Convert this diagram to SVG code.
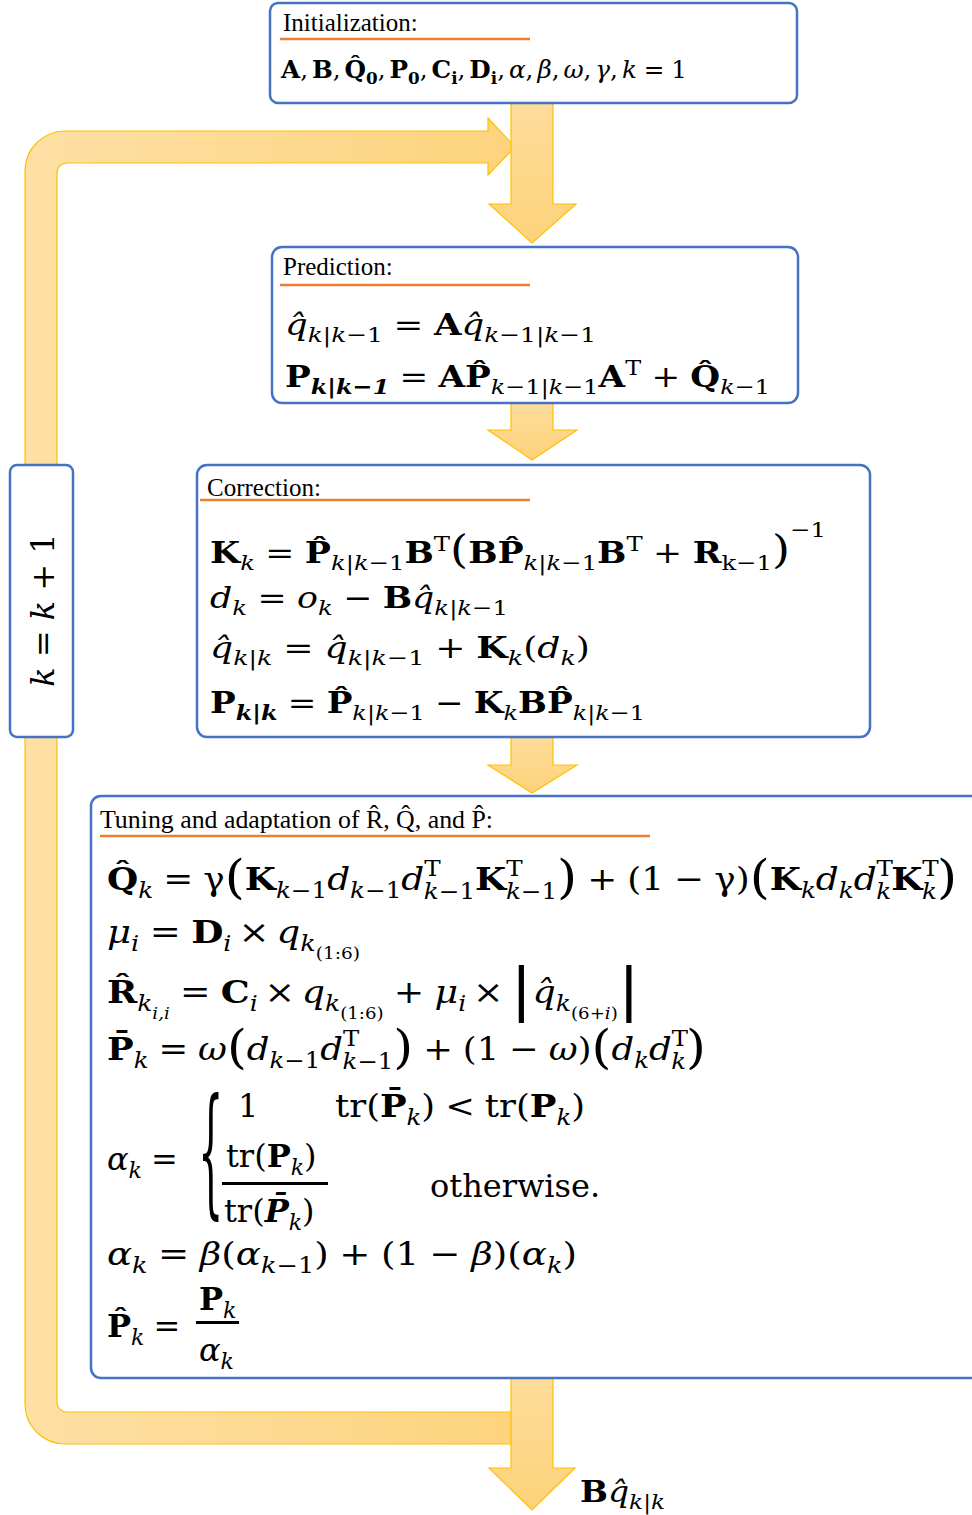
<svg xmlns="http://www.w3.org/2000/svg" width="972" height="1515" viewBox="0 0 972 1515">
<defs>
<linearGradient id="gh" x1="0" y1="0" x2="1" y2="0"><stop offset="0" stop-color="#FEE0A5"/><stop offset="1" stop-color="#FDD37D"/></linearGradient>
<linearGradient id="gv" x1="0" y1="0" x2="0" y2="1"><stop offset="0" stop-color="#FEDC9A"/><stop offset="1" stop-color="#FDD27A"/></linearGradient>
<style>
.box{fill:#fff;stroke:#4472C4;stroke-width:2.5}
.ul{stroke:#ED7D31;stroke-width:2.5}
.ah{fill:url(#gh);stroke:#FFC000;stroke-width:1.2}
.av{fill:url(#gv);stroke:#FFC000;stroke-width:1.2}
.t{font-family:"Liberation Serif",serif;font-size:25px;fill:#000}
.m{font-family:"DejaVu Serif",serif;fill:#000}
.b{font-weight:bold}
.i{font-style:italic}
.s{font-size:21px}
.u{font-size:22px}
.v{font-size:16px}
.bp{font-size:46px}
.bp2{font-size:40px}
.bar{font-size:58px}
</style>
</defs>
<rect width="972" height="1515" fill="#fff"/>
<g id="connectors">
<path class="ah" d="M488 131 L65 131 A40 40 0 0 0 25 171 L25 1404 A40 40 0 0 0 65 1444 L512 1444 L512 1412 L67 1412 A10 10 0 0 1 57 1402 L57 173 A10 10 0 0 1 67 163 L488 163 L488 175 L515 147 L488 118 Z"/>
<path class="av" d="M511 103 L553 103 L553 204 L576 204 L532 243 L489 204 L511 204 Z"/>
<path class="av" d="M511 403 L553 403 L553 430 L577 430 L532 460 L488 430 L511 430 Z"/>
<path class="av" d="M511 737 L553 737 L553 765 L577 765 L532 793 L488 765 L511 765 Z"/>
<path class="av" d="M511 1378 L553 1378 L553 1468 L575 1468 L532 1510 L489 1468 L511 1468 Z"/>
</g>
<g id="output-label">
<text class="m" x="580" y="1502" font-size="30" textLength="85" lengthAdjust="spacingAndGlyphs"><tspan class="b">B</tspan><tspan class="i">q̂</tspan><tspan class="s" dy="7"><tspan class="i">k</tspan>|<tspan class="i">k</tspan></tspan></text>
</g>
<g id="counter">
<rect class="box" x="10" y="465" width="63" height="272" rx="7"/>
<text class="m" font-size="32" text-anchor="middle" transform="translate(54,610) rotate(-90)"><tspan class="i">k</tspan> = <tspan class="i">k</tspan> + 1</text>
</g>
<g id="init">
<rect class="box" x="270" y="3" width="527" height="100" rx="8"/>
<text class="t" x="283" y="31">Initialization:</text>
<line class="ul" x1="280" y1="39" x2="530" y2="39"/>
<text class="m" x="281" y="78" font-size="25" textLength="406" lengthAdjust="spacingAndGlyphs"><tspan class="b">A</tspan>,<tspan class="b" dx="4">B</tspan>,<tspan class="b" dx="4">Q̂</tspan><tspan class="b" font-size="17" dy="6">0</tspan><tspan dy="-6">,</tspan><tspan class="b" dx="4">P</tspan><tspan class="b" font-size="17" dy="6">0</tspan><tspan dy="-6">,</tspan><tspan class="b" dx="4">C</tspan><tspan class="b" font-size="17" dy="6">i</tspan><tspan dy="-6">,</tspan><tspan class="b" dx="4">D</tspan><tspan class="b" font-size="17" dy="6">i</tspan><tspan dy="-6">,</tspan><tspan class="i" dx="4">α</tspan>,<tspan class="i" dx="4">β</tspan>,<tspan class="i" dx="4">ω</tspan>,<tspan class="i" dx="4">γ</tspan>,<tspan class="i" dx="4">k</tspan><tspan dx="7">=</tspan><tspan dx="7">1</tspan></text>
</g>
<g id="prediction">
<rect class="box" x="272" y="247" width="526" height="156" rx="10"/>
<text class="t" x="283" y="275">Prediction:</text>
<line class="ul" x1="280" y1="285" x2="530" y2="285"/>
<text class="m" x="285" y="335" font-size="30" textLength="311" lengthAdjust="spacingAndGlyphs"><tspan class="i">q̂</tspan><tspan class="s" dy="7"><tspan class="i">k</tspan>|<tspan class="i">k</tspan>−1</tspan><tspan dy="-7" dx="9">=</tspan><tspan class="b" dx="9">A</tspan><tspan class="i">q̂</tspan><tspan class="s" dy="7"><tspan class="i">k</tspan>−1|<tspan class="i">k</tspan>−1</tspan></text>
<text class="m" x="285" y="387" font-size="30" textLength="485" lengthAdjust="spacingAndGlyphs"><tspan class="b">P</tspan><tspan class="s b i" dy="7">k|k−1</tspan><tspan dy="-7" dx="9">=</tspan><tspan class="b" dx="9">AP̂</tspan><tspan class="s" dy="7"><tspan class="i">k</tspan>−1|<tspan class="i">k</tspan>−1</tspan><tspan class="b" dy="-7">A</tspan><tspan class="s" dy="-12">T</tspan><tspan dy="12" dx="9">+</tspan><tspan class="b" dx="9">Q̂</tspan><tspan class="s" dy="7"><tspan class="i">k</tspan>−1</tspan></text>
</g>
<g id="correction">
<rect class="box" x="197" y="465" width="673" height="272" rx="10"/>
<text class="t" x="207" y="496">Correction:</text>
<line class="ul" x1="200" y1="500" x2="530" y2="500"/>
<text class="m" x="210" y="563" font-size="30" textLength="616" lengthAdjust="spacingAndGlyphs"><tspan class="b">K</tspan><tspan class="s i" dy="7">k</tspan><tspan dy="-7" dx="9">=</tspan><tspan class="b" dx="9">P̂</tspan><tspan class="s" dy="7"><tspan class="i">k</tspan>|<tspan class="i">k</tspan>−1</tspan><tspan class="b" dy="-7">B</tspan><tspan class="s" dy="-12">T</tspan><tspan class="bp2" dy="12">(</tspan><tspan class="b">BP̂</tspan><tspan class="s" dy="7"><tspan class="i">k</tspan>|<tspan class="i">k</tspan>−1</tspan><tspan class="b" dy="-7">B</tspan><tspan class="s" dy="-12">T</tspan><tspan dy="12" dx="9">+</tspan><tspan class="b" dx="9">R</tspan><tspan class="s" dy="7">k−1</tspan><tspan class="bp2" dy="-7">)</tspan><tspan class="s" dy="-26">−1</tspan></text>
<text class="m" x="210" y="608" font-size="30" textLength="298" lengthAdjust="spacingAndGlyphs"><tspan class="i">d</tspan><tspan class="s i" dy="7">k</tspan><tspan dy="-7" dx="9">=</tspan><tspan class="i" dx="9">o</tspan><tspan class="s i" dy="7">k</tspan><tspan dy="-7" dx="9">−</tspan><tspan class="b" dx="9">B</tspan><tspan class="i">q̂</tspan><tspan class="s" dy="7"><tspan class="i">k</tspan>|<tspan class="i">k</tspan>−1</tspan></text>
<text class="m" x="210" y="658" font-size="30" textLength="380" lengthAdjust="spacingAndGlyphs"><tspan class="i">q̂</tspan><tspan class="s" dy="7"><tspan class="i">k</tspan>|<tspan class="i">k</tspan></tspan><tspan dy="-7" dx="9">=</tspan><tspan class="i" dx="9">q̂</tspan><tspan class="s" dy="7"><tspan class="i">k</tspan>|<tspan class="i">k</tspan>−1</tspan><tspan dy="-7" dx="9">+</tspan><tspan class="b" dx="9">K</tspan><tspan class="s i" dy="7">k</tspan><tspan dy="-7">(</tspan><tspan class="i">d</tspan><tspan class="s i" dy="7">k</tspan><tspan dy="-7">)</tspan></text>
<text class="m" x="210" y="713" font-size="30" textLength="435" lengthAdjust="spacingAndGlyphs"><tspan class="b">P</tspan><tspan class="s b i" dy="7">k|k</tspan><tspan dy="-7" dx="9">=</tspan><tspan class="b" dx="9">P̂</tspan><tspan class="s" dy="7"><tspan class="i">k</tspan>|<tspan class="i">k</tspan>−1</tspan><tspan dy="-7" dx="9">−</tspan><tspan class="b" dx="9">K</tspan><tspan class="s i" dy="7">k</tspan><tspan class="b" dy="-7">BP̂</tspan><tspan class="s" dy="7"><tspan class="i">k</tspan>|<tspan class="i">k</tspan>−1</tspan></text>
</g>
<g id="tuning">
<rect class="box" x="91" y="796" width="900" height="582" rx="10"/>
<text class="t" x="100" y="828" textLength="393" lengthAdjust="spacingAndGlyphs">Tuning and adaptation of <tspan>R̂</tspan>, <tspan>Q̂</tspan>, and <tspan>P̂</tspan>:</text>
<line class="ul" x1="100" y1="836" x2="650" y2="836"/>
<text class="m" x="107" y="890" font-size="32" textLength="850" lengthAdjust="spacingAndGlyphs"><tspan class="b">Q̂</tspan><tspan class="u i" dy="8">k</tspan><tspan dy="-8" dx="9">=</tspan><tspan dx="9">γ</tspan><tspan class="bp" dy="3">(</tspan><tspan class="b" dy="-3">K</tspan><tspan class="u" dy="8"><tspan class="i">k</tspan>−1</tspan><tspan class="i" dy="-8">d</tspan><tspan class="u" dy="8"><tspan class="i">k</tspan>−1</tspan><tspan class="i" dy="-8">d</tspan><tspan class="u" dy="-14">T</tspan><tspan class="u" dx="-15" dy="23"><tspan class="i">k</tspan>−1</tspan><tspan class="b" dy="-9">K</tspan><tspan class="u" dy="-14">T</tspan><tspan class="u" dx="-15" dy="23"><tspan class="i">k</tspan>−1</tspan><tspan class="bp" dy="-6">)</tspan><tspan dx="9" dy="-3">+</tspan><tspan dx="9">(1</tspan><tspan dx="9">−</tspan><tspan dx="9">γ)</tspan><tspan class="bp" dy="3">(</tspan><tspan class="b" dy="-3">K</tspan><tspan class="u i" dy="8">k</tspan><tspan class="i" dy="-8">d</tspan><tspan class="u i" dy="8">k</tspan><tspan class="i" dy="-8">d</tspan><tspan class="u" dy="-14">T</tspan><tspan class="u i" dx="-15" dy="23">k</tspan><tspan class="b" dy="-9">K</tspan><tspan class="u" dy="-14">T</tspan><tspan class="u i" dx="-15" dy="23">k</tspan><tspan class="bp" dy="-6">)</tspan></text>
<text class="m" x="107" y="943" font-size="32" textLength="253" lengthAdjust="spacingAndGlyphs"><tspan class="i">μ</tspan><tspan class="u i" dy="8">i</tspan><tspan dy="-8" dx="9">=</tspan><tspan class="b" dx="9">D</tspan><tspan class="u i" dy="8">i</tspan><tspan dy="-8" dx="6">×</tspan><tspan class="i" dx="6">q</tspan><tspan class="u i" dy="8">k</tspan><tspan class="v" dy="8">(1:6)</tspan></text>
<text class="m" x="107" y="1003" font-size="32" textLength="533" lengthAdjust="spacingAndGlyphs"><tspan class="b">R̂</tspan><tspan class="u i" dy="8">k</tspan><tspan class="v i" dy="8">i,i</tspan><tspan dy="-16" dx="9">=</tspan><tspan class="b" dx="9">C</tspan><tspan class="u i" dy="8">i</tspan><tspan dy="-8" dx="6">×</tspan><tspan class="i" dx="6">q</tspan><tspan class="u i" dy="8">k</tspan><tspan class="v" dy="8">(1:6)</tspan><tspan dy="-16" dx="9">+</tspan><tspan class="i" dx="9">μ</tspan><tspan class="u i" dy="8">i</tspan><tspan dy="-8" dx="6">×</tspan><tspan class="bar" dx="6" dy="6">|</tspan><tspan class="i" dy="-6">q̂</tspan><tspan class="u i" dy="8">k</tspan><tspan class="v" dy="8">(6+<tspan class="i">i</tspan>)</tspan><tspan class="bar" dy="-10">|</tspan></text>
<text class="m" x="107" y="1060" font-size="32" textLength="599" lengthAdjust="spacingAndGlyphs"><tspan class="b">P̄</tspan><tspan class="u i" dy="8">k</tspan><tspan dy="-8" dx="9">=</tspan><tspan class="i" dx="9">ω</tspan><tspan class="bp" dy="3">(</tspan><tspan class="i" dy="-3">d</tspan><tspan class="u" dy="8"><tspan class="i">k</tspan>−1</tspan><tspan class="i" dy="-8">d</tspan><tspan class="u" dy="-14">T</tspan><tspan class="u" dx="-15" dy="23"><tspan class="i">k</tspan>−1</tspan><tspan class="bp" dy="-6">)</tspan><tspan dx="9" dy="-3">+</tspan><tspan dx="9">(1</tspan><tspan dx="9">−</tspan><tspan class="i" dx="9">ω</tspan>)<tspan class="bp" dy="3">(</tspan><tspan class="i" dy="-3">d</tspan><tspan class="u i" dy="8">k</tspan><tspan class="i" dy="-8">d</tspan><tspan class="u" dy="-14">T</tspan><tspan class="u i" dx="-15" dy="23">k</tspan><tspan class="bp" dy="-6">)</tspan></text>
<text class="m" x="107" y="1170" font-size="32"><tspan class="i">α</tspan><tspan class="u i" dy="8">k</tspan><tspan dy="-8" dx="9">=</tspan></text>
<text class="m" font-size="50" transform="translate(198,1199) scale(0.8,2.8)">{</text>
<text class="m" x="238" y="1117" font-size="32">1</text>
<text class="m" x="335" y="1117" font-size="32" textLength="250" lengthAdjust="spacingAndGlyphs">tr(<tspan class="b">P̄</tspan><tspan class="u i" dy="8">k</tspan><tspan dy="-8">)</tspan><tspan dx="9">&lt;</tspan><tspan dx="9">tr(</tspan><tspan class="b">P</tspan><tspan class="u i" dy="8">k</tspan><tspan dy="-8">)</tspan></text>
<text class="m" x="226" y="1167" font-size="32">tr(<tspan class="b">P</tspan><tspan class="u i" dy="8">k</tspan><tspan dy="-8">)</tspan></text>
<rect x="222" y="1182" width="106" height="3" fill="#000"/>
<text class="m" x="224" y="1222" font-size="32">tr(<tspan class="b i">P̄</tspan><tspan class="u i" dy="8">k</tspan><tspan dy="-8">)</tspan></text>
<text class="m" x="430" y="1197" font-size="32">otherwise.</text>
<text class="m" x="107" y="1265" font-size="32" textLength="470" lengthAdjust="spacingAndGlyphs"><tspan class="i">α</tspan><tspan class="u i" dy="8">k</tspan><tspan dy="-8" dx="9">=</tspan><tspan class="i" dx="9">β</tspan>(<tspan class="i">α</tspan><tspan class="u" dy="8"><tspan class="i">k</tspan>−1</tspan><tspan dy="-8">)</tspan><tspan dx="9">+</tspan><tspan dx="9">(1</tspan><tspan dx="9">−</tspan><tspan class="i" dx="9">β</tspan>)(<tspan class="i">α</tspan><tspan class="u i" dy="8">k</tspan><tspan dy="-8">)</tspan></text>
<text class="m" x="107" y="1337" font-size="32"><tspan class="b">P̂</tspan><tspan class="u i" dy="8">k</tspan><tspan dy="-8" dx="9">=</tspan></text>
<text class="m" x="199" y="1310" font-size="32"><tspan class="b">P</tspan><tspan class="u i" dy="8">k</tspan></text>
<rect x="196" y="1321" width="43" height="3" fill="#000"/>
<text class="m" x="199" y="1361" font-size="32"><tspan class="i">α</tspan><tspan class="u i" dy="8">k</tspan></text>
</g>
</svg>
